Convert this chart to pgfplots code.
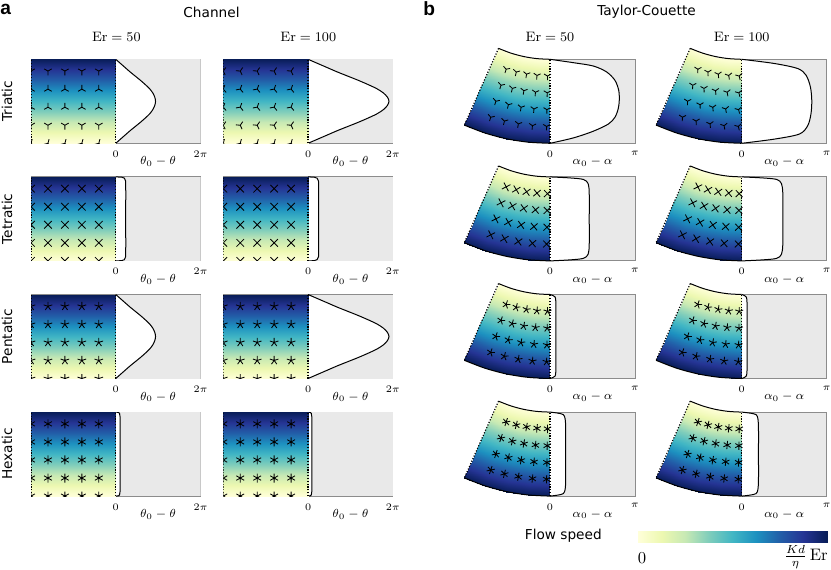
\documentclass[border=0pt]{standalone}
\usepackage{fontspec}
\usepackage{pgfplots}
\usepackage{pgfplotstable}
\pgfplotsset{compat=1.18}
\usetikzlibrary{plotmarks}
\newfontfamily\dejavu{DejaVu Sans}
\newfontfamily\arial{Liberation Sans}

\definecolor{panelgray}{RGB}{233,233,233}
\definecolor{framegray}{RGB}{140,140,140}
\newcommand\hfont{\dejavu\fontsize{8.2}{9.8}\selectfont}

\pgfplotsset{
  colormap={ylgnbu}{rgb255=(255,255,217) rgb255=(237,248,177) rgb255=(199,233,180)
    rgb255=(127,205,187) rgb255=(65,182,196) rgb255=(29,145,192) rgb255=(34,94,168)
    rgb255=(37,52,148) rgb255=(8,29,88)},
  panel/.style={
    scale only axis, anchor=south west,
    ymin=0, ymax=1, ytick=\empty,
    major tick length=0pt,
    point meta min=0, point meta max=1,
    xticklabel style={font=\fontsize{6.1}{7}\selectfont, yshift=-1pt},
  },
  chan/.style={panel, width=101.7pt, height=50.4pt,
    xmin=-6.2832, xmax=6.2832, clip marker paths=true,
    xtick={0,6.2832}, xticklabels={$0$,$2\pi$},
    xlabel={$\theta_0-\theta$},
    every axis x label/.style={at={(axis description cs:0.75,0)}, anchor=center,
      yshift=-11pt, font=\fontsize{7.5}{8.5}\selectfont},
    axis line style={draw=framegray, line width=0.6pt}},
  tc/.style={panel, width=102.96pt, height=57.46pt, clip=false,
    xmin=-3.2, xmax=3.1416, ymax=1.14,
    xtick={0,3.1416}, xticklabels={$0$,$\pi$},
    xlabel={$\alpha_0-\alpha$},
    every axis x label/.style={at={(axis description cs:0.7523,0)}, anchor=center,
      yshift=-11pt, font=\fontsize{7.5}{8.5}\selectfont},
    axis line style={draw=none}},
  rmarks/.style 2 args={only marks, scatter, point meta=y,
    scatter/use mapped color={draw=black, fill=black},
    visualization depends on={\thisrow{#1}+#2 \as \mrot},
    scatter/@pre marker code/.append code={\pgftransformrotate{\mrot}},
    mark options={line width=0.5pt}},
  pmarks/.style={only marks, black, mark options={line width=0.5pt}},
}

% gradient of the channel (left half of each channel panel)
\pgfplotstableread{
x y
-6.2832 0
0 0
-6.2832 0.25
0 0.25
-6.2832 0.5
0 0.5
-6.2832 0.75
0 0.75
-6.2832 1
0 1
}\chgrad

% annular wedge of the Taylor-Couette cell, c = radial position
\pgfplotstableread{
x y c
0 1.0 0
-0.4889 1.0082 0
-0.9723 1.0329 0
-1.4452 1.0737 0
-1.9022 1.1302 0
0 0.75 0.25
-0.5700 0.7596 0.25
-1.1338 0.7884 0.25
-1.6851 0.8359 0.25
-2.2179 0.9018 0.25
0 0.5 0.5
-0.6511 0.5110 0.5
-1.2952 0.5438 0.5
-1.9250 0.5982 0.5
-2.5337 0.6734 0.5
0 0.25 0.75
-0.7323 0.2624 0.75
-1.4566 0.2993 0.75
-2.1649 0.3604 0.75
-2.8495 0.4450 0.75
0 0 1
-0.8134 0.0137 1
-1.6180 0.0548 1
-2.4049 0.1226 1
-3.1653 0.2166 1
}\wedgetab

% director glyph positions, channel (a, b: triatic orientation for Er=50, 100)
\pgfplotstableread{
x y a b
-6.2832 0 45 45
-5.0265 0 45 45
-3.7699 0 45 45
-2.5133 0 45 45
-1.2566 0 45 45
-6.2832 0.215 0 25
-5.0265 0.215 0 25
-3.7699 0.215 0 25
-2.5133 0.215 0 25
-1.2566 0.215 0 25
-6.2832 0.43 60 40
-5.0265 0.43 60 40
-3.7699 0.43 60 40
-2.5133 0.43 60 40
-1.2566 0.43 60 40
-6.2832 0.645 60 40
-5.0265 0.645 60 40
-3.7699 0.645 60 40
-2.5133 0.645 60 40
-1.2566 0.645 60 40
-6.2832 0.86 0 25
-5.0265 0.86 0 25
-3.7699 0.86 0 25
-2.5133 0.86 0 25
-1.2566 0.86 0 25
-6.2832 1.04 15 15
-5.0265 1.04 15 15
-3.7699 1.04 15 15
-2.5133 1.04 15 15
-1.2566 1.04 15 15
}\chanmarks

% director glyph positions, Taylor-Couette wedge
\pgfplotstableread{
x y rot
-0.0925 0.8003 -1
-0.4802 0.8070 -5.2
-0.8653 0.8229 -9.4
-1.2457 0.8478 -13.6
-1.6195 0.8817 -17.8
-0.1033 0.6003 -1
-0.5365 0.6078 -5.2
-0.9667 0.6256 -9.4
-1.3918 0.6534 -13.6
-1.8094 0.6912 -17.8
-0.1141 0.4003 -1
-0.5927 0.4087 -5.2
-1.0682 0.4283 -9.4
-1.5378 0.4591 -13.6
-1.9993 0.5008 -17.8
-0.1250 0.2004 -1
-0.6490 0.2095 -5.2
-1.1696 0.2310 -9.4
-1.6839 0.2647 -13.6
-2.1891 0.3104 -17.8
}\tcmarks

% #1,#2: lower left corner (px), #3: glyph options, #4: velocity profile
\newcommand{\chanpanel}[4]{%
\begin{axis}[chan, at={(#1*0.6pt,-#2*0.6pt)}]
\addplot[fill=panelgray, draw=none] coordinates {(0,0) (6.2832,0) (6.2832,1) (0,1)};
\addplot[fill=white, draw=black, line width=0.6pt, smooth, tension=0.5] coordinates {#4};
\addplot[surf, shader=interp, point meta=y, mesh/rows=5, mesh/cols=2] table {\chgrad};
\addplot[black, densely dotted, line width=0.7pt] coordinates {(-6.2832,0) (-6.2832,1)};
\addplot[black, densely dotted, line width=0.7pt] coordinates {(0,0) (0,1)};
\addplot[#3] table {\chanmarks};
\end{axis}}

\newcommand{\tcpanel}[4]{%
\begin{axis}[tc, at={(#1*0.6pt,-#2*0.6pt)}]
\addplot[fill=panelgray, draw=framegray, line width=0.6pt] coordinates {(0,1) (3.1416,1) (3.1416,0) (0,0)};
\addplot[fill=white, draw=black, line width=0.6pt, smooth, tension=0.5] coordinates {#4};
\addplot[surf, shader=interp, point meta=\thisrow{c}, mesh/rows=5, mesh/cols=5] table {\wedgetab};
\addplot[black, line width=0.6pt, smooth] coordinates {(0,1.0) (-0.4889,1.0082) (-0.9723,1.0329) (-1.4452,1.0737) (-1.9022,1.1302)};
\addplot[black, line width=0.6pt, smooth] coordinates {(0,0) (-0.8134,0.0137) (-1.6180,0.0548) (-2.4049,0.1226) (-3.1653,0.2166)};
\addplot[black, densely dotted, line width=0.7pt] coordinates {(-1.9022,1.1302) (-3.1653,0.2166)};
\addplot[black, densely dotted, line width=0.7pt] coordinates {(0,0) (0,1)};
\addplot[#3] table {\tcmarks};
\end{axis}}

\begin{document}
\begin{tikzpicture}
\path[use as bounding box] (0,0) rectangle (831*0.6pt,-569*0.6pt);

% ---------------- a: Channel ----------------
\chanpanel{31}{143.3}{rmarks={a}{0}, mark=Mercedes star flipped, mark size=2.6pt}
  {(0,0) (0.354,0.05) (0.708,0.1) (1.062,0.15) (1.446,0.2) (1.829,0.25) (2.183,0.3) (2.508,0.35) (2.744,0.4) (2.891,0.45) (2.95,0.5) (2.891,0.55) (2.744,0.6) (2.508,0.65) (2.183,0.7) (1.829,0.75) (1.446,0.8) (1.062,0.85) (0.708,0.9) (0.354,0.95) (0,1)}
\chanpanel{223.3}{143.3}{rmarks={b}{0}, mark=Mercedes star flipped, mark size=2.6pt}
  {(0,0) (0.72,0.05) (1.44,0.1) (2.16,0.15) (2.94,0.2) (3.72,0.25) (4.44,0.3) (5.1,0.35) (5.58,0.4) (5.88,0.45) (6.0,0.5) (5.88,0.55) (5.58,0.6) (5.1,0.65) (4.44,0.7) (3.72,0.75) (2.94,0.8) (2.16,0.85) (1.44,0.9) (0.72,0.95) (0,1)}

\chanpanel{31}{260.9}{pmarks, mark=x, mark size=3.2pt}
  {(0,0) (0.45,0.004) (0.64,0.015) (0.72,0.045) (0.74,0.1) (0.74,0.5) (0.74,0.9) (0.72,0.955) (0.64,0.985) (0.45,0.996) (0,1)}
\chanpanel{223.3}{260.9}{pmarks, mark=x, mark size=3.2pt}
  {(0,0) (0.47,0.004) (0.67,0.015) (0.76,0.045) (0.78,0.1) (0.78,0.5) (0.78,0.9) (0.76,0.955) (0.67,0.985) (0.47,0.996) (0,1)}

\chanpanel{31}{378.5}{pmarks, mark=star, mark size=2.7pt}
  {(0,0) (0.354,0.05) (0.708,0.1) (1.062,0.15) (1.446,0.2) (1.829,0.25) (2.183,0.3) (2.508,0.35) (2.744,0.4) (2.891,0.45) (2.95,0.5) (2.891,0.55) (2.744,0.6) (2.508,0.65) (2.183,0.7) (1.829,0.75) (1.446,0.8) (1.062,0.85) (0.708,0.9) (0.354,0.95) (0,1)}
\chanpanel{223.3}{378.5}{pmarks, mark=star, mark size=2.7pt}
  {(0,0) (0.72,0.05) (1.44,0.1) (2.16,0.15) (2.94,0.2) (3.72,0.25) (4.44,0.3) (5.1,0.35) (5.58,0.4) (5.88,0.45) (6.0,0.5) (5.88,0.55) (5.58,0.6) (5.1,0.65) (4.44,0.7) (3.72,0.75) (2.94,0.8) (2.16,0.85) (1.44,0.9) (0.72,0.95) (0,1)}

\chanpanel{31}{496.1}{pmarks, mark=asterisk, mark size=2.7pt}
  {(0,0) (0.2,0.004) (0.28,0.015) (0.31,0.045) (0.32,0.1) (0.32,0.5) (0.32,0.9) (0.31,0.955) (0.28,0.985) (0.2,0.996) (0,1)}
\chanpanel{223.3}{496.1}{pmarks, mark=asterisk, mark size=2.7pt}
  {(0,0) (0.17,0.004) (0.24,0.015) (0.27,0.045) (0.28,0.1) (0.28,0.5) (0.28,0.9) (0.27,0.955) (0.24,0.985) (0.17,0.996) (0,1)}

% ---------------- b: Taylor-Couette ----------------
\tcpanel{463.4}{143.3}{rmarks={rot}{0}, mark=Mercedes star flipped, mark size=2.4pt}
  {(0,0) (0.86,0.064) (1.6,0.144) (2.16,0.23) (2.40,0.31) (2.52,0.41) (2.56,0.51) (2.54,0.63) (2.40,0.75) (2.09,0.85) (1.6,0.92) (0.86,0.96) (0,1)}
\tcpanel{655.1}{143.3}{rmarks={rot}{15}, mark=Mercedes star flipped, mark size=2.4pt}
  {(0,0) (1.21,0.05) (2.13,0.11) (2.44,0.21) (2.56,0.35) (2.59,0.51) (2.54,0.67) (2.38,0.81) (2.07,0.89) (1.21,0.95) (0,1)}

\tcpanel{463.4}{260.9}{rmarks={rot}{0}, mark=x, mark size=2.9pt}
  {(0,0) (0.73,0.012) (1.23,0.03) (1.41,0.08) (1.45,0.2) (1.45,0.5) (1.45,0.8) (1.41,0.92) (1.23,0.97) (0.73,0.988) (0,1)}
\tcpanel{655.1}{260.9}{rmarks={rot}{0}, mark=x, mark size=2.9pt}
  {(0,0) (0.76,0.012) (1.29,0.03) (1.47,0.08) (1.52,0.2) (1.52,0.5) (1.52,0.8) (1.47,0.92) (1.29,0.97) (0.76,0.988) (0,1)}

\tcpanel{463.4}{378.5}{rmarks={rot}{0}, mark=star, mark size=2.5pt}
  {(0,0) (0.11,0.012) (0.19,0.03) (0.215,0.08) (0.22,0.2) (0.22,0.5) (0.22,0.8) (0.215,0.92) (0.19,0.97) (0.11,0.988) (0,1)}
\tcpanel{655.1}{378.5}{rmarks={rot}{0}, mark=star, mark size=2.5pt}
  {(0,0) (0.1,0.012) (0.17,0.03) (0.195,0.08) (0.2,0.2) (0.2,0.5) (0.2,0.8) (0.195,0.92) (0.17,0.97) (0.1,0.988) (0,1)}

\tcpanel{463.4}{496.1}{rmarks={rot}{0}, mark=asterisk, mark size=2.5pt}
  {(0,0) (0.29,0.012) (0.49,0.03) (0.56,0.08) (0.58,0.2) (0.58,0.5) (0.58,0.8) (0.56,0.92) (0.49,0.97) (0.29,0.988) (0,1)}
\tcpanel{655.1}{496.1}{rmarks={rot}{0}, mark=asterisk, mark size=2.5pt}
  {(0,0) (0.31,0.012) (0.53,0.03) (0.6,0.08) (0.62,0.2) (0.62,0.5) (0.62,0.8) (0.6,0.92) (0.53,0.97) (0.31,0.988) (0,1)}

% ---------------- colour bar ----------------
\begin{axis}[at={(638*0.6pt,-542*0.6pt)}, anchor=south west, scale only axis,
  width=113.4pt, height=6.6pt, xmin=0, xmax=1, ymin=0, ymax=1,
  xtick=\empty, ytick=\empty, point meta min=0, point meta max=1,
  axis line style={draw=black!75, line width=0.5pt}]
\addplot[surf, shader=interp, point meta=x, mesh/rows=2, mesh/cols=2] table {
x y
0 0
1 0
0 1
1 1
};
\end{axis}

% ---------------- text ----------------
\node[anchor=west, inner sep=0pt, font=\arial\bfseries\fontsize{11.5}{13}\selectfont] at (0*0.6pt,-9*0.6pt) {a};
\node[anchor=west, inner sep=0pt, font=\arial\bfseries\fontsize{11.5}{13}\selectfont] at (423*0.6pt,-9*0.6pt) {b};
\node[font=\hfont] at (211.5*0.6pt,-12*0.6pt) {Channel};
\node[font=\hfont] at (646.5*0.6pt,-12*0.6pt) {Taylor-Couette};
\node[font=\fontsize{8.2}{9.8}\selectfont] at (116.3*0.6pt,-37*0.6pt) {$\mathrm{Er}=50$};
\node[font=\fontsize{8.2}{9.8}\selectfont] at (308.3*0.6pt,-37*0.6pt) {$\mathrm{Er}=100$};
\node[font=\fontsize{8.2}{9.8}\selectfont] at (550*0.6pt,-37*0.6pt) {$\mathrm{Er}=50$};
\node[font=\fontsize{8.2}{9.8}\selectfont] at (741.7*0.6pt,-37*0.6pt) {$\mathrm{Er}=100$};
\node[rotate=90, font=\hfont] at (7*0.6pt,-101.3*0.6pt) {Triatic};
\node[rotate=90, font=\hfont] at (7*0.6pt,-218.9*0.6pt) {Tetratic};
\node[rotate=90, font=\hfont] at (7*0.6pt,-336.5*0.6pt) {Pentatic};
\node[rotate=90, font=\hfont] at (7*0.6pt,-454.1*0.6pt) {Hexatic};
\node[font=\hfont] at (563.3*0.6pt,-536*0.6pt) {Flow speed};
\node[font=\fontsize{10}{12}\selectfont] at (642*0.6pt,-558*0.6pt) {$0$};
\node[anchor=east, inner sep=0pt, font=\fontsize{10}{12}\selectfont] at (828*0.6pt,-557*0.6pt) {$\frac{K d}{\eta}\,\mathrm{Er}$};
\end{tikzpicture}
\end{document}
